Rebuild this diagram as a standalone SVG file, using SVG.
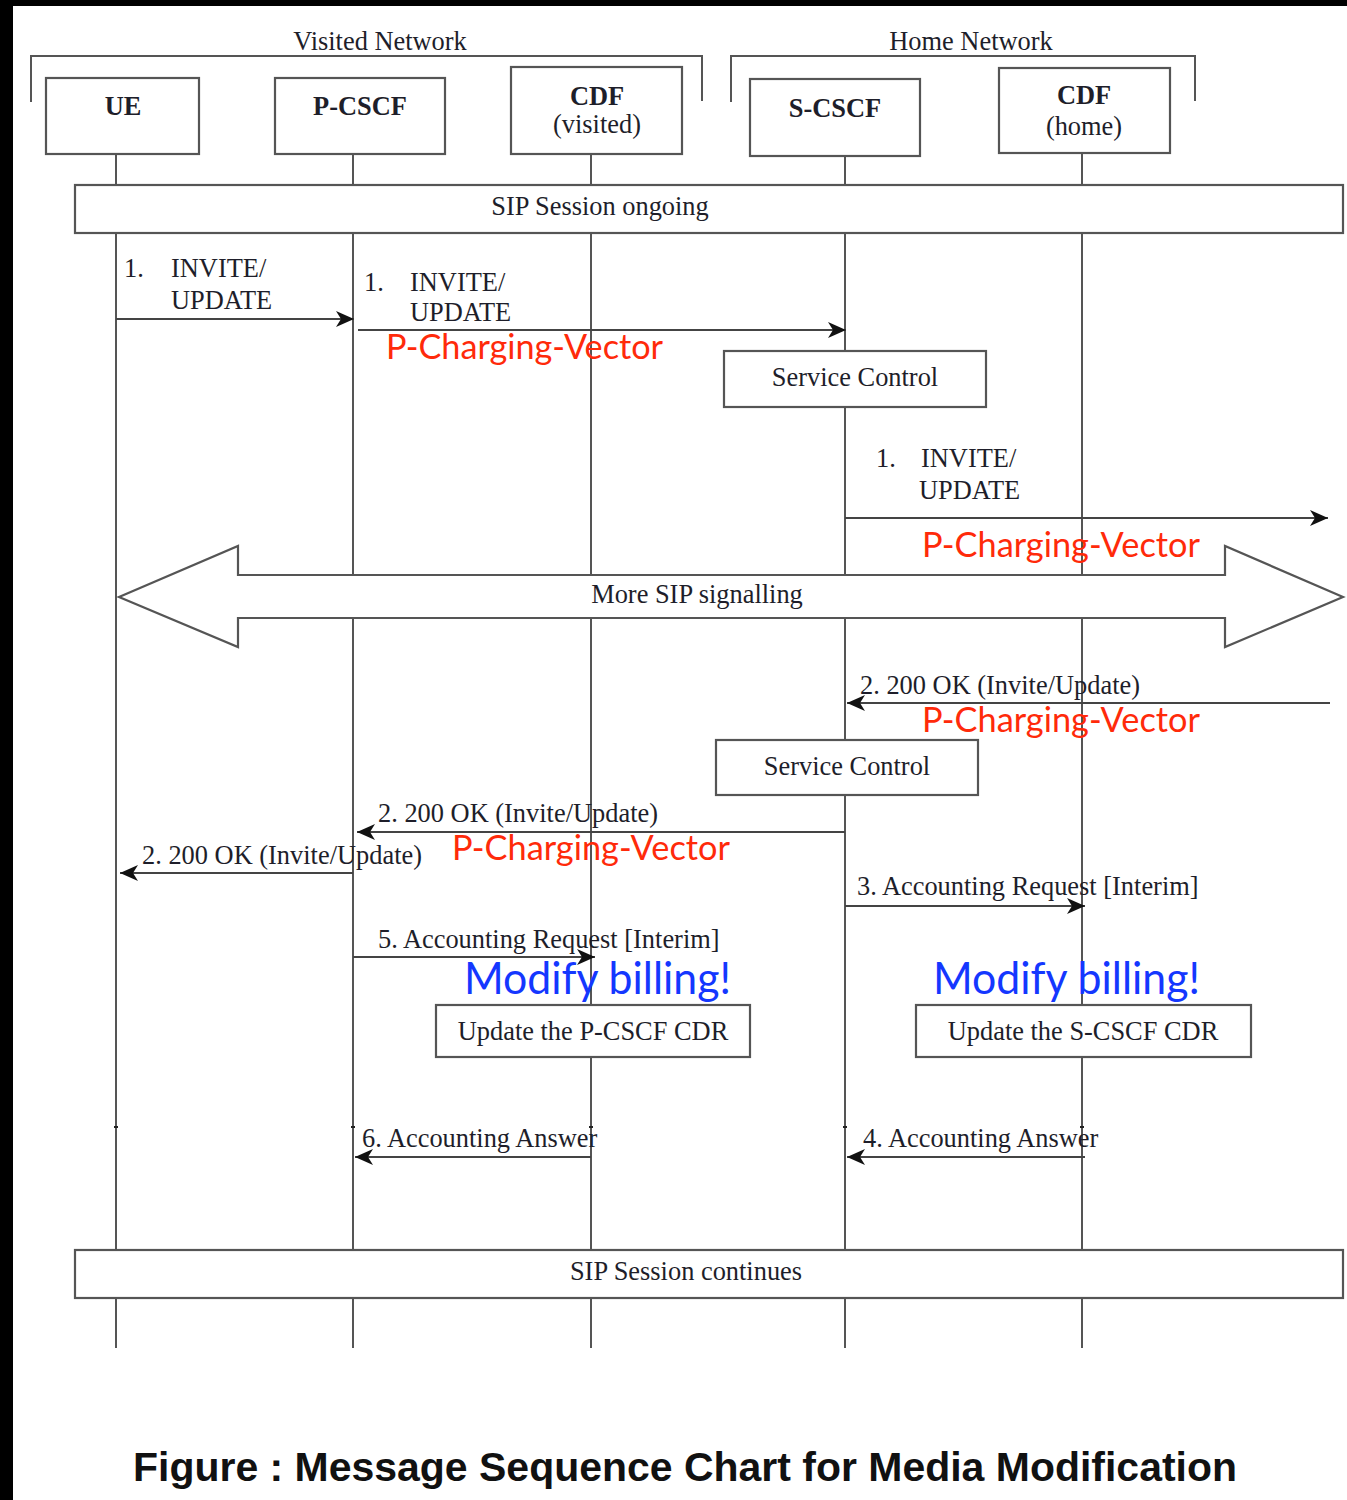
<svg xmlns="http://www.w3.org/2000/svg" width="1347" height="1500" viewBox="0 0 1347 1500">
<defs>
<style>
.t{font-family:"Liberation Serif","Times New Roman",serif;font-size:26.4px;fill:#1e1e2a}
.b{font-weight:bold}
.m{text-anchor:middle}
.box{fill:#fff;stroke:#555;stroke-width:2.2}
.ll{stroke:#555;stroke-width:2;fill:none}
.msg{stroke:#444;stroke-width:2.2;fill:none;marker-end:url(#ah)}
.red{font-family:Lato,"Open Sans",sans-serif;font-size:35px;fill:#ff2a0a}
.blue{font-family:Lato,"Open Sans",sans-serif;font-size:45px;fill:#1437ff}
.cap{font-family:"Liberation Sans",Arial,sans-serif;font-weight:bold;font-size:41px;fill:#111}
</style>
<marker id="ah" markerUnits="userSpaceOnUse" markerWidth="20" markerHeight="18" refX="18" refY="8" orient="auto">
<path d="M0,0 L18,8 L0,16 L5,8 z" fill="#111"/>
</marker>
</defs>
<rect x="0" y="0" width="1347" height="1500" fill="#fff"/>
<rect x="0" y="0" width="1347" height="6" fill="#000"/>
<rect x="0" y="0" width="13" height="1500" fill="#000"/>

<g id="networks">
<path class="ll" d="M31,102 V56 H702 V101"/>
<text class="t m" x="380" y="50">Visited Network</text>
<path class="ll" d="M731,102 V56 H1195 V101"/>
<text class="t m" x="971" y="50">Home Network</text>
</g>

<g id="lifelines">
<line class="ll" x1="116" y1="154" x2="116" y2="1348"/>
<line class="ll" x1="353" y1="154" x2="353" y2="1348"/>
<line class="ll" x1="591" y1="154" x2="591" y2="1348"/>
<line class="ll" x1="845" y1="156" x2="845" y2="1348"/>
<line class="ll" x1="1082" y1="153" x2="1082" y2="1348"/>
<g stroke="#222" stroke-width="2">
<line x1="114" y1="1127" x2="118" y2="1127"/>
<line x1="351" y1="1127" x2="355" y2="1127"/>
<line x1="589" y1="1127" x2="593" y2="1127"/>
<line x1="843" y1="1127" x2="847" y2="1127"/>
<line x1="1080" y1="1127" x2="1084" y2="1127"/>
</g>
</g>

<g id="UE">
<rect class="box" x="46" y="78" width="153" height="76"/>
<text class="t b m" x="123" y="115">UE</text>
</g>
<g id="P-CSCF">
<rect class="box" x="275" y="78" width="170" height="76"/>
<text class="t b m" x="360" y="115">P-CSCF</text>
</g>
<g id="CDF-visited">
<rect class="box" x="511" y="67" width="171" height="87"/>
<text class="t b m" x="597" y="105">CDF</text>
<text class="t m" x="597" y="133">(visited)</text>
</g>
<g id="S-CSCF">
<rect class="box" x="750" y="79" width="170" height="77"/>
<text class="t b m" x="835" y="117">S-CSCF</text>
</g>
<g id="CDF-home">
<rect class="box" x="999" y="68" width="171" height="85"/>
<text class="t b m" x="1084" y="104">CDF</text>
<text class="t m" x="1084" y="135">(home)</text>
</g>

<g id="sip-ongoing">
<rect class="box" x="75" y="185" width="1268" height="48"/>
<text class="t m" x="600" y="215">SIP Session ongoing</text>
</g>

<g id="service-control-1">
<rect class="box" x="724" y="351" width="262" height="56"/>
<text class="t m" x="855" y="386">Service Control</text>
</g>

<g id="more-sip">
<polygon class="box" points="119,597 238,546 238,575 1225,575 1225,546 1343,597 1225,647 1225,618 238,618 238,647"/>
<text class="t m" x="697" y="603">More SIP signalling</text>
</g>

<g id="service-control-2">
<rect class="box" x="716" y="740" width="262" height="55"/>
<text class="t m" x="847" y="775">Service Control</text>
</g>

<g id="update-pcscf">
<rect class="box" x="436" y="1005" width="314" height="52"/>
<text class="t m" x="593" y="1040">Update the P-CSCF CDR</text>
</g>
<g id="update-scscf">
<rect class="box" x="916" y="1005" width="335" height="52"/>
<text class="t m" x="1083" y="1040">Update the S-CSCF CDR</text>
</g>

<g id="sip-continues">
<rect class="box" x="75" y="1250" width="1268" height="48"/>
<text class="t m" x="686" y="1280">SIP Session continues</text>
</g>

<g id="connectors">
<line class="msg" x1="116" y1="319" x2="354" y2="319"/>
<line class="msg" x1="358" y1="330" x2="846" y2="330"/>
<line class="msg" x1="845" y1="518" x2="1328" y2="518"/>
<line class="msg" x1="1330" y1="703" x2="847" y2="703"/>
<line class="msg" x1="845" y1="832" x2="357" y2="832"/>
<line class="msg" x1="353" y1="873" x2="120" y2="873"/>
<line class="msg" x1="845" y1="906" x2="1085" y2="906"/>
<line class="msg" x1="353" y1="957" x2="595" y2="957"/>
<line class="msg" x1="591" y1="1157" x2="355" y2="1157"/>
<line class="msg" x1="1085" y1="1157" x2="847" y2="1157"/>
</g>

<g id="labels">
<text class="t" x="124" y="277">1.</text>
<text class="t" x="171" y="277">INVITE/</text>
<text class="t" x="171" y="309">UPDATE</text>
<text class="t" x="364" y="291">1.</text>
<text class="t" x="410" y="291">INVITE/</text>
<text class="t" x="410" y="321">UPDATE</text>
<text class="t" x="876" y="467">1.</text>
<text class="t" x="921" y="467">INVITE/</text>
<text class="t" x="919" y="499">UPDATE</text>
<text class="t" x="860" y="694">2. 200 OK (Invite/Update)</text>
<text class="t" x="378" y="822">2. 200 OK (Invite/Update)</text>
<text class="t" x="142" y="864">2. 200 OK (Invite/Update)</text>
<text class="t" x="857" y="895">3. Accounting Request [Interim]</text>
<text class="t" x="378" y="948">5. Accounting Request [Interim]</text>
<text class="t" x="362" y="1147">6. Accounting Answer</text>
<text class="t" x="863" y="1147">4. Accounting Answer</text>
<text class="red" x="386" y="359" textLength="277" lengthAdjust="spacingAndGlyphs">P-Charging-Vector</text>
<text class="red" x="922" y="557" textLength="278" lengthAdjust="spacingAndGlyphs">P-Charging-Vector</text>
<text class="red" x="922" y="732" textLength="278" lengthAdjust="spacingAndGlyphs">P-Charging-Vector</text>
<text class="red" x="452" y="860" textLength="278" lengthAdjust="spacingAndGlyphs">P-Charging-Vector</text>
<text class="blue" x="464" y="994" textLength="267" lengthAdjust="spacingAndGlyphs">Modify billing!</text>
<text class="blue" x="933" y="994" textLength="267" lengthAdjust="spacingAndGlyphs">Modify billing!</text>
</g>

<text class="cap" x="133" y="1481" textLength="1104" lengthAdjust="spacingAndGlyphs">Figure : Message Sequence Chart for Media Modification</text>
</svg>
